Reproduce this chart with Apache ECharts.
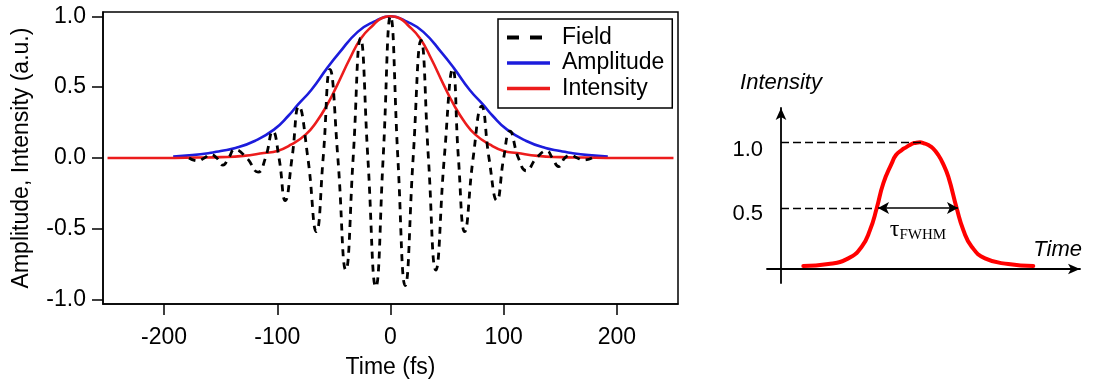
<!DOCTYPE html>
<html><head><meta charset="utf-8">
<script src="https://cdn.jsdelivr.net/npm/echarts@6/dist/echarts.min.js"></script>
<style>html,body{margin:0;padding:0;background:#fff}#c{width:1095px;height:381px}</style>
</head><body><div id="c"></div>
<script>
// ---- left panel: tick values ----
const timeTicks = [-200, -100, 0, 100, 200];
const valueTicks = [-1, -0.5, 0, 0.5, 1];

// ---- Field (dashed) : extrema and zero crossings ----
const fieldTime = [-178, -170, -164.5, -159, -153.5, -148, -143, -137.5, -127, -117, -110.5, -104, -98.5, -93, -87, -81, -73, -65.5, -59.5, -53.5, -46.5, -39.5, -33, -26.5, -20, -13, -6.5, 0,
  6.5, 13, 20, 27, 33.5, 40, 47.5, 55, 60, 65.5, 73, 80.5, 87, 94, 100, 105.5, 113, 120, 129, 138, 143, 148.5, 154, 159, 165, 170.5, 178];
const fieldValue = [0, -0.02, 0, 0.025, 0, -0.05, 0, 0.06, 0, -0.10, 0, 0.19, 0, -0.30, 0, 0.365, 0, -0.52, 0, 0.625, 0, -0.79, 0, 0.845, 0, -0.91, 0, 1.0,
  0, -0.90, 0, 0.83, 0, -0.79, 0, 0.63, 0, -0.52, 0, 0.365, 0, -0.30, 0, 0.19, 0, -0.09, 0, 0.05, 0, -0.06, 0, 0.02, 0, -0.015, 0];

// ---- Amplitude (blue) ----
const ampTime = [-192, -175, -160, -150, -137, -120, -103, -90, -82, -70, -56, -45, -29, -15, 0, 15, 29, 45, 56, 70, 82, 90, 103, 120, 137, 150, 160, 175, 192];
const ampValue = [0.01, 0.02, 0.035, 0.05, 0.07, 0.12, 0.20, 0.30, 0.375, 0.48, 0.634, 0.745, 0.89, 0.96, 1.0, 0.96, 0.89, 0.745, 0.634, 0.48, 0.375, 0.30, 0.20, 0.12, 0.07, 0.05, 0.035, 0.02, 0.01];

// ---- Intensity (red) ----
const intTime = [-250, -200, -170, -150, -130, -112, -100, -88, -75, -65, -56, -47, -36, -26, -15, -8, 0, 8, 15, 26, 36, 47, 56, 65, 75, 88, 100, 112, 130, 150, 170, 200, 250];
const intValue = [0, 0, 0.003, 0.006, 0.015, 0.035, 0.05, 0.094, 0.165, 0.26, 0.375, 0.516, 0.70, 0.845, 0.94, 0.986, 1.0, 0.986, 0.94, 0.845, 0.70, 0.516, 0.375, 0.26, 0.165, 0.094, 0.05, 0.035, 0.015, 0.006, 0.003, 0, 0];

// ---- right panel schematic pulse ----
const schTime = [22.3, 47.3, 67.3, 80.7, 89, 95.7, 102.3, 110.7, 115, 120.7, 125, 130.7, 134, 139, 143, 147.3, 152, 157.3, 162, 167.3, 175.7, 182.3, 190.7, 204, 227.3, 252.3];
const schValue = [0.024, 0.039, 0.084, 0.176, 0.307, 0.478, 0.675, 0.832, 0.898, 0.937, 0.958, 0.985, 0.993, 0.998, 0.99, 0.976, 0.95, 0.898, 0.83, 0.727, 0.478, 0.307, 0.176, 0.084, 0.039, 0.024];
const schTickLabels = [0.5, 1.0];
const schPeakLine = [[0, 1.0], [140.7, 1.0]];
const schHalfLine = [[0, 0.48], [91, 0.48]];
const schFwhm = [[97, 0.48], [177, 0.48]];

const zip = (a, b) => a.map((v, i) => [v, b[i]]);
const FONT = "'Liberation Sans', Arial, sans-serif";
const SERIF = "'Liberation Serif', 'Times New Roman', serif";
const noSym = {color: 'rgba(0,0,0,0)', borderColor: 'rgba(0,0,0,0)', borderWidth: 0, opacity: 0};

const chart = echarts.init(document.getElementById('c'), null, {renderer: 'canvas'});
chart.setOption({
  animation: false,
  backgroundColor: '#fff',
  textStyle: {fontFamily: FONT, color: '#000'},
  grid: [
    {left: 103, right: 417, top: 12, bottom: 77, outerBoundsMode: 'none', containLabel: false, show: true, borderColor: '#000', borderWidth: 1.5, backgroundColor: 'transparent'},
    {left: 767, right: 15, top: 108, bottom: 98, outerBoundsMode: 'none', containLabel: false}
  ],
  legend: {
    data: [
      {name: 'Field', lineStyle: {type: [12, 11], width: 4}, itemStyle: noSym},
      {name: 'Amplitude', lineStyle: {width: 3.4}, itemStyle: noSym},
      {name: 'Intensity', lineStyle: {width: 3.4}, itemStyle: noSym}
    ],
    orient: 'vertical', left: 498, top: 19,
    padding: [7, 8, 8, 7], itemGap: 2.5,
    itemWidth: 43, itemHeight: 14,
    itemStyle: noSym,
    borderColor: '#000', borderWidth: 1.5, backgroundColor: '#fff',
    textStyle: {fontSize: 23, color: '#000', fontFamily: FONT, padding: [0, 0, 0, 7]}
  },
  xAxis: [
    {
      type: 'value', gridIndex: 0, min: -254, max: 254,
      name: 'Time (fs)', nameLocation: 'middle', nameGap: 52,
      nameTextStyle: {fontSize: 23, color: '#000', fontFamily: FONT},
      axisLine: {onZero: false, lineStyle: {color: '#000', width: 1.5}},
      axisTick: {show: true, inside: false, length: 11, customValues: timeTicks, lineStyle: {color: '#000', width: 1.5}},
      axisLabel: {customValues: timeTicks, fontSize: 23, color: '#000', margin: 22, fontFamily: FONT},
      splitLine: {show: false}
    },
    {
      type: 'value', gridIndex: 1, min: -14, max: 299,
      name: 'Time', nameLocation: 'end', nameGap: 2,
      nameTextStyle: {fontSize: 22, fontStyle: 'italic', color: '#000', align: 'right', verticalAlign: 'bottom', padding: [0, 0, 8, 0], fontFamily: FONT},
      axisLine: {onZero: true, symbol: ['none', 'arrow'], symbolSize: [8, 12], lineStyle: {color: '#000', width: 1.8}},
      axisTick: {show: false}, axisLabel: {show: false}, splitLine: {show: false}
    }
  ],
  yAxis: [
    {
      type: 'value', gridIndex: 0, min: -1.03, max: 1.03,
      name: 'Amplitude, Intensity (a.u.)', nameLocation: 'middle', nameGap: 70,
      nameTextStyle: {fontSize: 23, color: '#000', fontFamily: FONT},
      axisLine: {onZero: false, lineStyle: {color: '#000', width: 1.5}},
      axisTick: {show: true, inside: false, length: 11, customValues: valueTicks, lineStyle: {color: '#000', width: 1.5}},
      axisLabel: {customValues: valueTicks, fontSize: 23, color: '#000', margin: 17, fontFamily: FONT, formatter: v => v.toFixed(1)},
      splitLine: {show: false}
    },
    {
      type: 'value', gridIndex: 1, min: -0.11, max: 1.268,
      name: 'Intensity', nameLocation: 'end', nameGap: 14,
      nameTextStyle: {fontSize: 22, fontStyle: 'italic', color: '#000', fontFamily: FONT},
      axisLine: {onZero: true, symbol: ['none', 'arrow'], symbolSize: [8, 12], lineStyle: {color: '#000', width: 1.8}},
      axisTick: {show: false},
      axisLabel: {customValues: schTickLabels, fontSize: 22, color: '#000', margin: 4, verticalAlign: 'top', lineHeight: 16, fontFamily: FONT, formatter: v => v.toFixed(1)},
      splitLine: {show: false}
    }
  ],
  series: [
    {
      name: 'Amplitude', type: 'line', xAxisIndex: 0, yAxisIndex: 0,
      data: zip(ampTime, ampValue), smooth: 0.5, showSymbol: false, symbol: 'none',
      lineStyle: {color: '#1c1cdc', width: 2.6}, itemStyle: {color: '#1c1cdc'}
    },
    {
      name: 'Intensity', type: 'line', xAxisIndex: 0, yAxisIndex: 0,
      data: zip(intTime, intValue), smooth: 0.5, showSymbol: false, symbol: 'none',
      lineStyle: {color: '#ec1c1c', width: 2.6}, itemStyle: {color: '#ec1c1c'}
    },
    {
      name: 'Field', type: 'line', xAxisIndex: 0, yAxisIndex: 0,
      data: zip(fieldTime, fieldValue), smooth: 0.5, showSymbol: false, symbol: 'none',
      lineStyle: {color: '#000', width: 2.8, type: [7, 6]}, itemStyle: {color: '#000'}
    },
    {
      name: 'Pulse', type: 'line', xAxisIndex: 1, yAxisIndex: 1,
      data: zip(schTime, schValue), smooth: 0.5, showSymbol: false, symbol: 'none',
      lineStyle: {color: '#ff0000', width: 4, join: 'round', cap: 'round'}, itemStyle: {color: '#ff0000'},
      markLine: {
        silent: true, animation: false,
        data: [
          [{coord: schPeakLine[0], symbol: 'none', lineStyle: {type: [8, 4], color: '#000', width: 1.3}},
           {coord: schPeakLine[1], symbol: 'none'}],
          [{coord: schHalfLine[0], symbol: 'none', lineStyle: {type: [8, 4], color: '#000', width: 1.3}},
           {coord: schHalfLine[1], symbol: 'none'}],
          [{coord: schFwhm[0], symbol: 'arrow', symbolSize: [9, 11], lineStyle: {type: 'solid', color: '#000', width: 1.6},
            label: {show: true, position: 'insideMiddleBottom', distance: 9,
              formatter: '{t|τ}{s|FWHM}',
              rich: {t: {fontFamily: SERIF, fontSize: 24, color: '#000'},
                     s: {fontFamily: SERIF, fontSize: 15, color: '#000', padding: [10, 0, 0, 0]}}}},
           {coord: schFwhm[1], symbol: 'arrow', symbolSize: [9, 11]}]
        ],
        label: {show: false}
      }
    }
  ]
});
</script></body></html>
